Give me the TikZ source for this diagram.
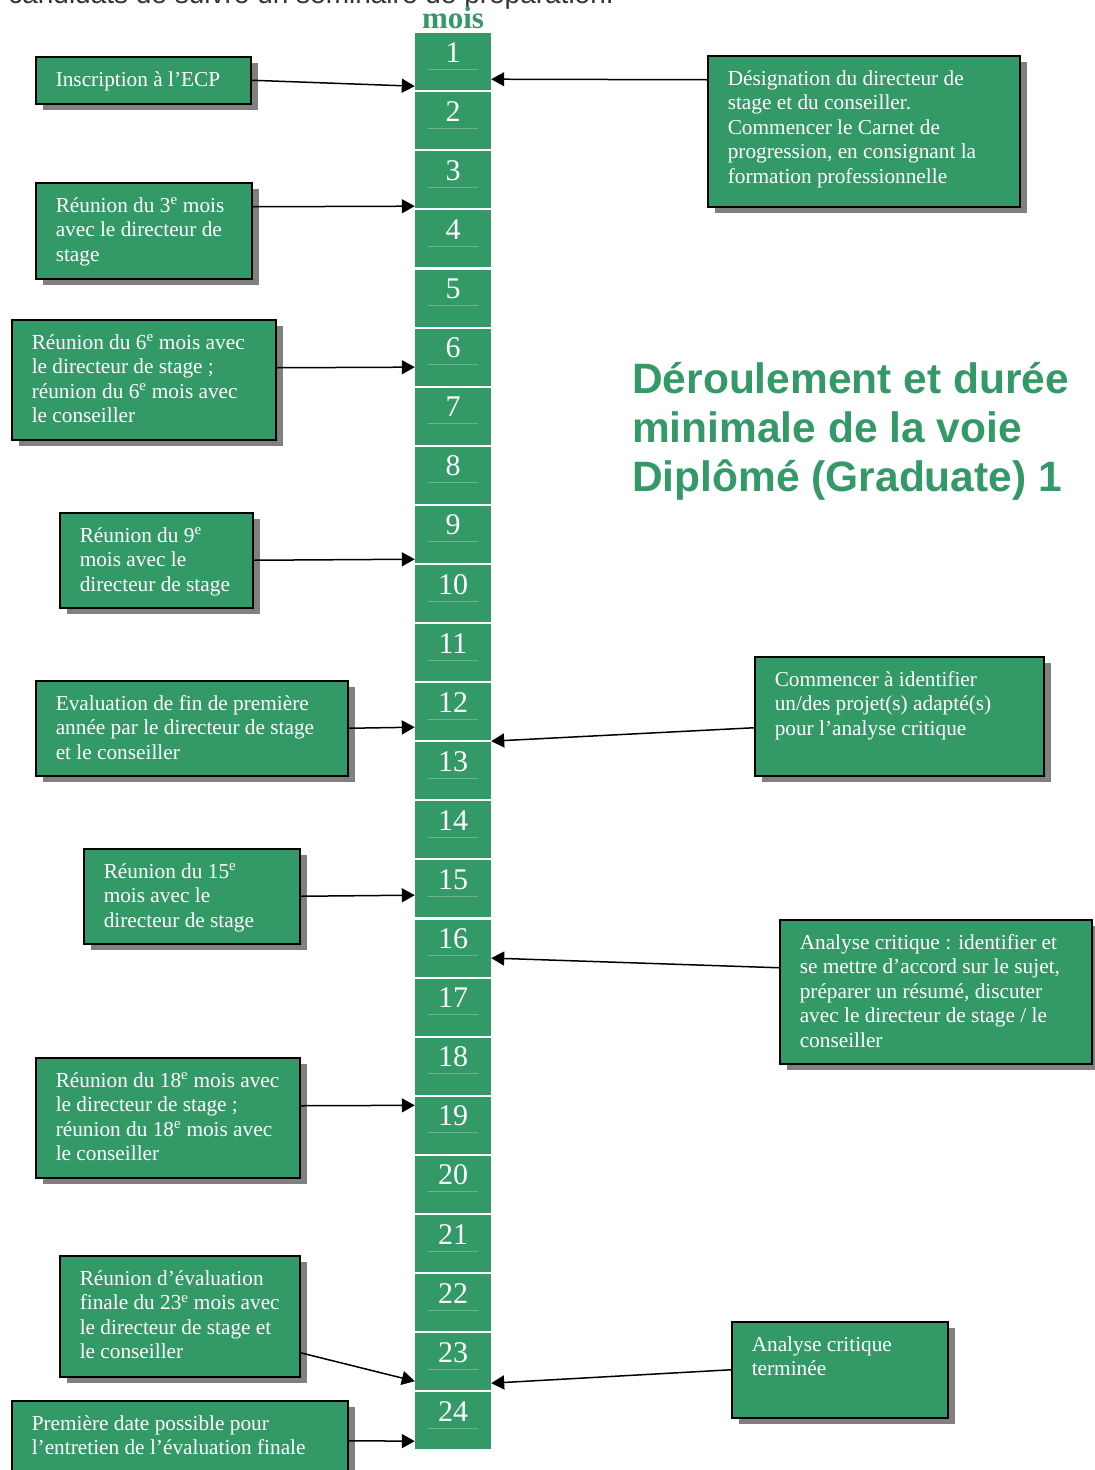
\documentclass[tikz,border=0pt]{standalone}
\usepackage{fontspec}
\setmainfont{Liberation Serif}
\newfontfamily\titlefont{Liberation Sans}
\usetikzlibrary{arrows.meta,shadows,positioning}

\definecolor{mgreen}{HTML}{339966}
\definecolor{mline}{HTML}{6BB691}
\definecolor{topgray}{HTML}{333333}

\newcommand{\boxfont}{\fontsize{21.3}{24.5}\selectfont}
\newcommand{\eme}{\textsuperscript{e}}
% text of a box, set from its top edge
\newcommand{\evtext}[3]{\parbox[c][#2][t]{#1}{\raggedright\leftskip=10pt\rule{0pt}{29.5pt}#3}}

\tikzset{
  evt/.style={draw=black, line width=1.5pt, fill=mgreen, text=white, font=\boxfont,
    inner xsep=10pt, inner ysep=0pt, anchor=north west,
    drop shadow={shadow xshift=7pt, shadow yshift=-6pt, fill=black!50, opacity=1}},
  cell/.style={fill=mgreen, text=white, inner sep=0pt, anchor=north,
    font=\fontsize{30}{30}\selectfont},
  conn/.style={line width=1.5pt, -{Triangle[length=13pt,width=14pt]}},
}

\begin{document}
\begin{tikzpicture}[x=1pt,y=-1pt]
    \useasboundingbox (0,0) rectangle (1095,1470);
    \clip (0,0) rectangle (1095,1470);

    \node[anchor=base east, text=topgray, inner sep=0pt, font=\titlefont\fontsize{28}{28}\selectfont] (intro) at (614,3.5) {candidats de suivre un séminaire de préparation.};

    % column of months
    \node[anchor=base, text=mgreen, inner sep=0pt, font=\bfseries\fontsize{31}{31}\selectfont] (mois) at (453,28) {mois};
    \foreach \i in {1,...,24}{
        \node[cell] (m\i) at (453,{33+(\i-1)*59.09}) {\parbox[c][57pt][t]{76pt}{\centering\rule{0pt}{29pt}\i}};
        \draw[mline, line width=0.5pt] ([xshift=-25pt,yshift=-36pt]m\i.north) -- ([xshift=25pt,yshift=-36pt]m\i.north);
    }

    % left side
    \node[evt] (b1) at (35,56) {\evtext{195pt}{47pt}{Inscription à l’ECP}};
    \node[evt] (b3) at (35,182) {\evtext{196pt}{96pt}{Réunion du 3\eme{} mois\\avec le directeur de\\stage}};
    \node[evt] (b6) at (11,319) {\evtext{244pt}{120pt}{Réunion du 6\eme{} mois avec\\le directeur de stage ;\\réunion du 6\eme{} mois avec\\le conseiller}};
    \node[evt] (b9) at (59,512) {\evtext{173pt}{95pt}{Réunion du 9\eme\\mois avec le\\directeur de stage}};
    \node[evt] (b12) at (35,680) {\evtext{292pt}{95pt}{Evaluation de fin de première\\année par le directeur de stage\\et le conseiller}};
    \node[evt] (b15) at (83,848) {\evtext{196pt}{95pt}{Réunion du 15\eme\\mois avec le\\directeur de stage}};
    \node[evt] (b18) at (35,1057) {\evtext{244pt}{120pt}{Réunion du 18\eme{} mois avec\\le directeur de stage ;\\réunion du 18\eme{} mois avec\\le conseiller}};
    \node[evt] (b23) at (59,1255) {\evtext{220pt}{121pt}{Réunion d’évaluation\\finale du 23\eme{} mois avec\\le directeur de stage et\\le conseiller}};
    \node[evt] (b24) at (11,1400) {\evtext{316pt}{80pt}{Première date possible pour\\l’entretien de l’évaluation finale}};

    % right side
    \node[evt] (r1) at (707,55) {\evtext{292pt}{151pt}{Désignation du directeur de\\stage et du conseiller.\\Commencer le Carnet de\\progression, en consignant la\\formation professionnelle}};
    \node[evt] (r13) at (754,656) {\evtext{269pt}{119pt}{Commencer à identifier\\un/des projet(s) adapté(s)\\pour l’analyse critique}};
    \node[evt] (r16) at (779,919) {\evtext{292pt}{144pt}{Analyse critique : identifier et\\se mettre d’accord sur le sujet,\\préparer un résumé, discuter\\avec le directeur de stage / le\\conseiller}};
    \node[evt] (r23) at (731,1321) {\evtext{196pt}{96pt}{Analyse critique\\terminée}};

    \draw[conn] (b1.east) -- ([yshift=-24.5pt]m1.west);
    \draw[conn] ([yshift=24pt]b3.east) -- ([yshift=-26.3pt]m3.west);
    \draw[conn] ([yshift=12pt]b6.east) -- ([yshift=-10pt]m6.west);
    \draw[conn] (b9.east) -- ([yshift=-24.8pt]m9.west);
    \draw[conn] (b12.east) -- ([yshift=-15.5pt]m12.west);
    \draw[conn] (b15.east) -- ([yshift=-6.2pt]m15.west);
    \draw[conn] ([yshift=12pt]b18.east) -- ([yshift=20pt]m19.west);
    \draw[conn] ([yshift=-36.5pt]b23.east) -- ([yshift=-19.5pt]m23.west);
    \draw[conn] (b24.east) -- ([yshift=-20.4pt]m24.west);

    \draw[conn] ([yshift=51.5pt]r1.west) -- ([yshift=-17.5pt]m1.east);
    \draw[conn] ([yshift=-11.5pt]r13.west) -- ([yshift=29.6pt]m13.east);
    \draw[conn] ([yshift=24pt]r16.west) -- ([yshift=-10pt]m16.east);
    \draw[conn] (r23.west) -- ([yshift=-21.5pt]m23.east);

    \node[anchor=north west, inner sep=0pt, align=left, text=mgreen, font=\titlefont\bfseries\fontsize{42.5}{49}\selectfont] (title) at (632,362) {Déroulement et durée\\minimale de la voie\\Diplômé (Graduate) 1};
\end{tikzpicture}
\end{document}
